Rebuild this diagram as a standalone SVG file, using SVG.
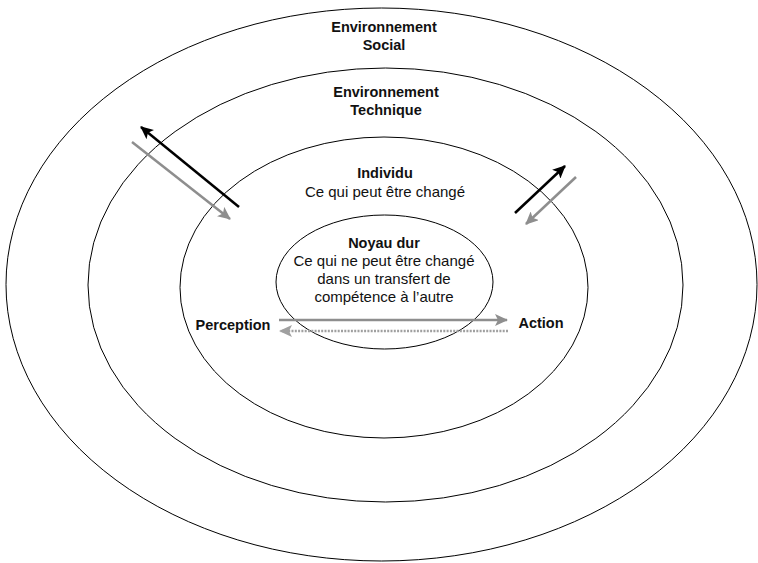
<svg xmlns="http://www.w3.org/2000/svg" width="758" height="563" viewBox="0 0 758 563">
<style>
.ring{fill:none;stroke:#000;stroke-width:1}
.b{font-family:"Liberation Sans",Arial,sans-serif;font-weight:bold;font-size:14.5px;fill:#111;text-anchor:middle}
.r{font-family:"Liberation Sans",Arial,sans-serif;font-size:15px;fill:#111;text-anchor:middle}
.k{stroke:#000;stroke-width:2.5;fill:none}
.g{stroke:#8e8e8e;stroke-width:2.5;fill:none}
.gd{stroke:#a0a0a0;stroke-width:2.5;fill:none;stroke-dasharray:2 1.3}
</style>
<defs>
<marker id="ak" markerUnits="userSpaceOnUse" markerWidth="14" markerHeight="12" refX="12" refY="6" orient="auto"><path d="M0,0 L13,6 L0,12 L3,6 Z" fill="#000"/></marker>
<marker id="ag" markerUnits="userSpaceOnUse" markerWidth="14" markerHeight="12" refX="12" refY="6" orient="auto"><path d="M0,0 L13,6 L0,12 L3,6 Z" fill="#8e8e8e"/></marker>
<marker id="agl" markerUnits="userSpaceOnUse" markerWidth="14" markerHeight="12" refX="12" refY="6" orient="auto"><path d="M0,0 L13,6 L0,12 L3,6 Z" fill="#a0a0a0"/></marker>
</defs>
<rect width="758" height="563" fill="#fff"/>
<g id="social">
<ellipse class="ring" cx="381.5" cy="284.5" rx="375.5" ry="276.5"/>
<text class="b" x="384" y="32">Environnement</text>
<text class="b" x="384" y="50">Social</text>
</g>
<g id="technique">
<ellipse class="ring" cx="385.5" cy="285" rx="297.5" ry="217"/>
<text class="b" x="386" y="97">Environnement</text>
<text class="b" x="386" y="115">Technique</text>
</g>
<g id="individu">
<ellipse class="ring" cx="384" cy="287.5" rx="204" ry="150.5"/>
<text class="b" x="385" y="178">Individu</text>
<text class="r" x="385" y="197">Ce qui peut être changé</text>
</g>
<g id="noyau">
<ellipse class="ring" cx="384.5" cy="282" rx="108.5" ry="67"/>
<text class="b" x="384" y="248">Noyau dur</text>
<text class="r" x="384" y="266">Ce qui ne peut être changé</text>
<text class="r" x="384" y="284">dans un transfert de</text>
<text class="r" x="384" y="302">compétence à l’autre</text>
</g>
<g id="perception"><text class="b" x="233" y="330">Perception</text></g>
<g id="action"><text class="b" x="541" y="328">Action</text></g>
<g id="connectors">
<line class="k" x1="239" y1="207" x2="141" y2="127" marker-end="url(#ak)"/>
<line class="g" x1="132" y1="142" x2="230" y2="219" marker-end="url(#ag)"/>
<line class="k" x1="515" y1="213" x2="565" y2="166" marker-end="url(#ak)"/>
<line class="g" x1="576" y1="177" x2="526" y2="224" marker-end="url(#ag)"/>
<line class="g" x1="279" y1="320" x2="507" y2="320" marker-end="url(#ag)"/>
<line class="gd" x1="508" y1="331" x2="280" y2="331" marker-end="url(#agl)"/>
</g>
</svg>
